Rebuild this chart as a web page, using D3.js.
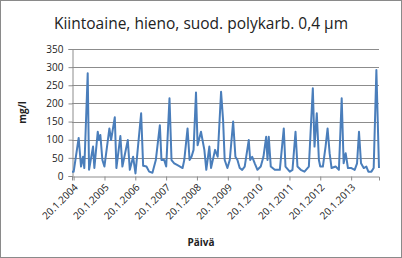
<!DOCTYPE html>
<html>
<head>
<meta charset="utf-8">
<script src="https://cdn.jsdelivr.net/npm/d3@7"></script>
<style>
  body { margin: 0; background: #fff; }
  svg { display: block; }
  text { font-family: "Open Sans", "Noto Sans", sans-serif; fill: #222; }
</style>
</head>
<body>
<svg id="chart" width="402" height="258"></svg>
<script>
// sample dates and values (mg/l)
var dates = ["2004-01-01","2004-01-21","2004-03-20","2004-04-17","2004-05-11","2004-05-26","2004-07-05","2004-07-21",
  "2004-09-06","2004-09-22","2004-11-01","2004-11-16","2004-12-02","2004-12-26","2005-01-19","2005-03-19",
  "2005-04-08","2005-05-22","2005-06-10","2005-07-27","2005-08-20","2005-10-23","2005-11-16","2005-12-25",
  "2006-01-22","2006-03-30","2006-04-23","2006-06-01","2006-07-03","2006-08-11","2006-09-20","2006-11-07",
  "2006-11-26","2006-12-28","2007-01-21","2007-03-01","2007-03-25","2007-04-26","2007-06-04","2007-08-03",
  "2007-08-23","2007-10-01","2007-10-25","2007-11-17","2007-12-11","2008-01-09","2008-01-28","2008-03-08",
  "2008-04-17","2008-05-10","2008-06-15","2008-07-05","2008-08-22","2008-09-22","2008-11-01","2008-11-25",
  "2008-12-14","2009-01-15","2009-02-12","2009-03-24","2009-04-20","2009-05-14","2009-06-10","2009-07-09",
  "2009-08-08","2009-09-25","2009-10-12","2009-11-05","2009-12-05","2010-01-06","2010-02-14","2010-03-18",
  "2010-04-19","2010-05-05","2010-05-20","2010-06-13","2010-07-30","2010-09-28","2010-11-14","2010-12-04",
  "2011-01-24","2011-02-25","2011-04-02","2011-04-25","2011-06-03","2011-07-17","2011-09-07","2011-10-24",
  "2011-11-13","2011-12-10","2012-01-04","2012-01-20","2012-02-20","2012-03-23","2012-04-16","2012-05-10",
  "2012-06-02","2012-07-20","2012-08-28","2012-09-30","2012-10-23","2012-11-16","2012-12-13","2013-01-23",
  "2013-03-03","2013-03-31","2013-04-23","2013-05-17","2013-06-18","2013-07-19","2013-08-12","2013-09-17",
  "2013-10-14","2013-11-15","2013-12-16"];
var values = [12,12,105,26,53,22,283,17,
  81,22,122,99,113,44,26,131,
  99,162,22,110,26,99,17,53,
  7,173,28,26,12,9,44,140,
  44,44,26,214,44,35,30,22,
  44,131,44,53,72,230,85,122,
  72,17,81,22,72,53,232,154,
  44,22,44,150,53,44,22,17,
  26,99,44,53,35,17,26,53,
  108,44,108,26,17,17,131,26,
  12,17,122,26,17,12,26,242,
  81,173,44,26,26,81,131,63,
  22,26,17,214,35,63,22,22,
  17,35,122,35,22,26,12,12,
  22,292,22];
var yTicks = [0, 50, 100, 150, 200, 250, 300, 350];
var xTickLabels = ["20.1.2004","20.1.2005","20.1.2006","20.1.2007","20.1.2008",
  "20.1.2009","20.1.2010","20.1.2011","20.1.2012","20.1.2013"];

var title = "Kiintoaine, hieno, suod. polykarb. 0,4 µm";

var svg = d3.select("#chart");
var W = 402, H = 258;
var pLeft = 72, pRight = 379, pTop = 49, pBottom = 176;

var parse = d3.timeParse("%Y-%m-%d");
var parseFi = d3.timeParse("%d.%m.%Y");
var data = dates.map(function(d, i) { return { date: parse(d), v: values[i] }; });

var x = d3.scaleTime()
  .domain([data[0].date, data[data.length - 1].date])
  .range([pLeft, pRight]);
var y = d3.scaleLinear().domain([0, 350]).range([pBottom, pTop]);

// outer frame
svg.append("rect")
  .attr("x", 0.5).attr("y", 0.5)
  .attr("width", W - 1).attr("height", H - 1)
  .attr("fill", "#fff").attr("stroke", "#8a8a8a");

svg.append("text")
  .attr("x", 201).attr("y", 29)
  .attr("text-anchor", "middle")
  .style("font-size", "15.5px")
  .text(title);

// gridlines
svg.append("g").selectAll("line")
  .data(yTicks.slice(1))
  .enter().append("line")
  .attr("x1", pLeft).attr("x2", pRight)
  .attr("y1", function(d) { return Math.round(y(d)) + 0.5; })
  .attr("y2", function(d) { return Math.round(y(d)) + 0.5; })
  .attr("stroke", "#8c8c8c").attr("stroke-width", 1);

// y axis
var yAxis = svg.append("g")
  .attr("transform", "translate(" + (pLeft + 0.5) + ",0)")
  .call(d3.axisLeft(y).tickValues(yTicks).tickSize(4).tickPadding(5));
yAxis.select(".domain").attr("stroke", "#8c8c8c");
yAxis.selectAll(".tick line").attr("stroke", "#8c8c8c");
yAxis.selectAll("text").style("font-size", "10px").attr("fill", "#222");

// x axis
var xTicks = xTickLabels.map(function(s) { return parseFi(s); });
var xAxis = svg.append("g")
  .attr("transform", "translate(0," + (pBottom + 0.5) + ")")
  .call(d3.axisBottom(x).tickValues(xTicks).tickSize(4)
    .tickFormat(function(d, i) { return xTickLabels[i]; }));
xAxis.select(".domain").attr("stroke", "#8c8c8c");
xAxis.selectAll(".tick line").attr("stroke", "#8c8c8c");
xAxis.selectAll("text")
  .style("font-size", "10px").attr("fill", "#222")
  .attr("text-anchor", "end")
  .attr("dy", "0.35em")
  .attr("transform", "translate(2,9) rotate(-45)")
  .attr("y", 0).attr("x", 0);

// series
var line = d3.line()
  .x(function(d) { return x(d.date); })
  .y(function(d) { return y(d.v); });
svg.append("path")
  .datum(data)
  .attr("d", line)
  .attr("fill", "none")
  .attr("stroke", "#4a7ebb")
  .attr("stroke-width", 2)
  .attr("stroke-linejoin", "round");

// axis titles
svg.append("text")
  .attr("transform", "translate(26," + ((pTop + pBottom) / 2) + ") rotate(-90)")
  .attr("text-anchor", "middle")
  .style("font-size", "10px").style("font-weight", "bold")
  .text("mg/l");
svg.append("text")
  .attr("x", 201).attr("y", 246)
  .attr("text-anchor", "middle")
  .style("font-size", "10px").style("font-weight", "bold")
  .text("Päivä");
</script>
</body>
</html>
